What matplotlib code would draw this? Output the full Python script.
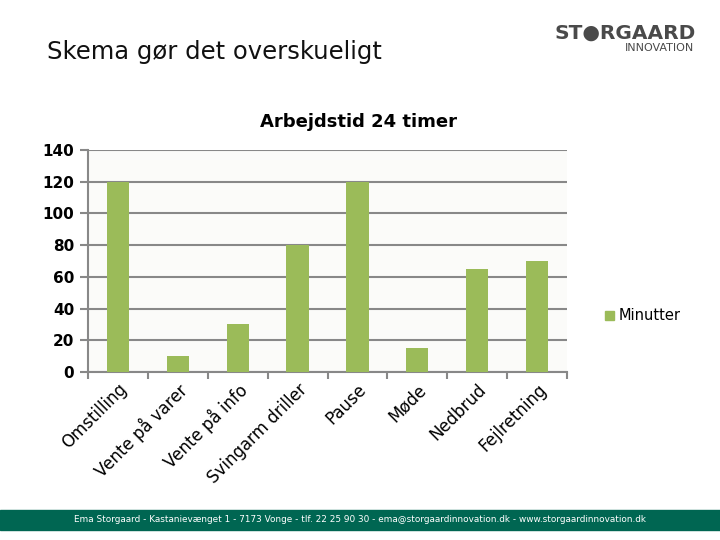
import matplotlib.pyplot as plt
import matplotlib.patches as mpatches
import numpy as np

plt.rcParams['font.family'] = ['DejaVu Sans']

# data
categories = ['Omstilling', 'Vente på varer', 'Vente på info', 'Svingarm driller',
              'Pause', 'Møde', 'Nedbrud', 'Fejlretning']
minutter = [120, 10, 30, 80, 120, 15, 65, 70]
y_ticks = [0, 20, 40, 60, 80, 100, 120, 140]

bar_color = '#9BBB59'
grid_color = '#888888'
footer_color = '#006652'

fig = plt.figure(figsize=(7.2, 5.4), dpi=100)

# slide title
fig.text(47 / 720, 1 - 52 / 540, 'Skema gør det overskueligt', fontsize=17.5,
         ha='left', va='center', color='#111111')

# logo
fig.text(625 / 720, 1 - 33 / 540, 'ST\u25CFRGAARD', fontsize=14.5, fontweight='bold',
         ha='center', va='center', color='#4a4a4a')
fig.text(660 / 720, 1 - 48 / 540, 'INNOVATION', fontsize=8,
         ha='center', va='center', color='#4a4a4a')

# chart
ax = fig.add_axes([88 / 720, 1 - 372 / 540, (567 - 88) / 720, (372 - 150) / 540])
ax.set_facecolor('#FBFBF9')
x = np.arange(len(categories))
ax.bar(x, minutter, width=0.37, color=bar_color, zorder=3, label='Minutter')
ax.set_xlim(-0.5, len(categories) - 0.5)
ax.set_ylim(0, 140)
ax.set_yticks(y_ticks)
ax.set_yticklabels([str(v) for v in y_ticks], fontsize=11, fontweight='bold')
ax.yaxis.grid(True, color=grid_color, linewidth=1.5, zorder=0)
ax.tick_params(axis='y', length=6, width=1.5, color=grid_color, pad=4)

ax.set_xticks(np.arange(-0.5, len(categories), 1), minor=False)
ax.set_xticklabels([])
ax.tick_params(axis='x', which='major', length=5, width=1.5, color=grid_color, direction='out')
ax.set_xticks(x, minor=True)
ax.set_xticklabels(categories, minor=True, rotation=45, ha='right', va='top',
                   rotation_mode='anchor', fontsize=12)
ax.tick_params(axis='x', which='minor', length=0, pad=6)

for s in ['top', 'right']:
    ax.spines[s].set_visible(False)
ax.spines['left'].set_color(grid_color)
ax.spines['left'].set_linewidth(1.5)
ax.spines['bottom'].set_color(grid_color)
ax.spines['bottom'].set_linewidth(1.5)

# chart title
fig.text(359 / 720, 1 - 122 / 540, 'Arbejdstid 24 timer', fontsize=13,
         fontweight='bold', ha='center', va='center')

handle = mpatches.Patch(color=bar_color, label='Minutter')
fig.legend(handles=[handle], loc='center left', bbox_to_anchor=(592 / 720, 1 - 316 / 540),
           frameon=False, fontsize=10.5, handlelength=0.6, handleheight=0.6,
           handletextpad=0.3)

# footer band
fig.patches.append(mpatches.Rectangle((0, 1 - 530 / 540), 1, 20 / 540,
                                      transform=fig.transFigure, color=footer_color))
fig.text(0.5, 1 - 520 / 540,
         'Ema Storgaard - Kastanievænget 1 - 7173 Vonge - tlf. 22 25 90 30 - ema@storgaardinnovation.dk - www.storgaardinnovation.dk',
         fontsize=6.4, color='white', ha='center', va='center')

fig.savefig('out.png', dpi=100)
